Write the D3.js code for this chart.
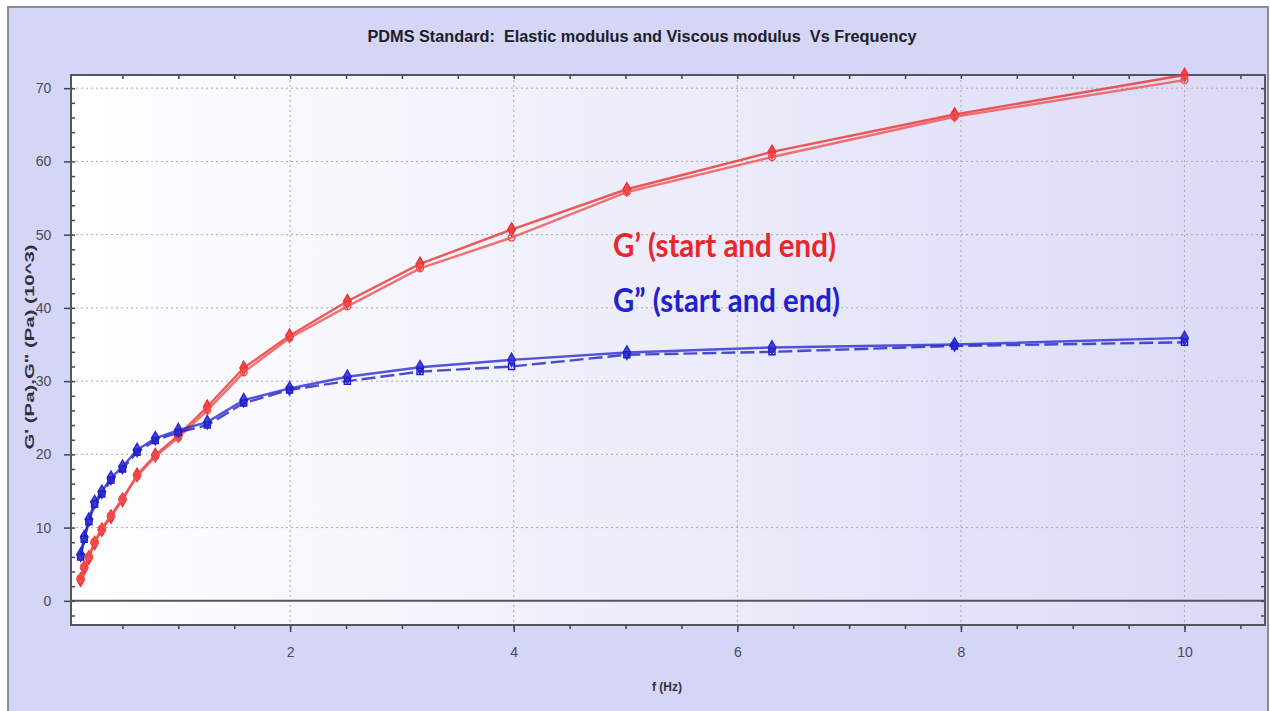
<!DOCTYPE html>
<html>
<head>
<meta charset="utf-8">
<script src="https://cdn.jsdelivr.net/npm/d3@7"></script>
<style>
  body { margin: 0; background: #fff; }
  svg { display: block; }
  text { white-space: pre; }
</style>
</head>
<body>
<svg id="chart"></svg>
<script>
// frequency points (Hz), log spaced
const freq = [0.126, 0.158, 0.2, 0.251, 0.316, 0.398, 0.501, 0.631, 0.794, 1.0,
  1.259, 1.585, 1.995, 2.512, 3.162, 3.981, 5.012, 6.31, 7.943, 10];

// G' (elastic), start and end runs, kPa
const gPrimeStart = [2.9, 4.5, 5.9, 7.9, 9.7, 11.5, 13.8, 17.2, 19.9, 22.6,
  26.5, 31.8, 36.2, 40.9, 46.0, 50.7, 56.2, 61.3, 66.4, 71.8];
const gPrimeEnd = [3.1, 4.7, 6.1, 8.1, 9.9, 11.7, 14.0, 17.0, 19.7, 22.3,
  26.0, 31.2, 35.9, 40.2, 45.4, 49.6, 55.8, 60.6, 66.1, 71.1];

// G'' (viscous), start and end runs, kPa
const gDblStart = [6.3, 8.7, 11.1, 13.5, 14.9, 16.8, 18.3, 20.6, 22.2, 23.3,
  24.4, 27.4, 29.0, 30.6, 31.9, 32.9, 33.9, 34.6, 35.0, 35.9];
const gDblEnd = [6.0, 8.4, 10.8, 13.2, 14.6, 16.5, 18.0, 20.3, 21.9, 23.0,
  24.0, 27.0, 28.8, 30.0, 31.3, 32.0, 33.6, 34.0, 34.8, 35.3];

const xTicks = [2, 4, 6, 8, 10];
const yTicks = [0, 10, 20, 30, 40, 50, 60, 70];

const W = 1270, H = 711;
const plot = { left: 71, right: 1265, top: 75, bottom: 625 };

const svg = d3.select('#chart').attr('width', W).attr('height', H);

const defs = svg.append('defs');
const grad = defs.append('linearGradient').attr('id', 'plotBg')
  .attr('x1', '0%').attr('x2', '100%').attr('y1', '0%').attr('y2', '0%');
grad.append('stop').attr('offset', '0%').attr('stop-color', '#ffffff');
grad.append('stop').attr('offset', '100%').attr('stop-color', '#dadaf6');

// outer frame
svg.append('rect')
  .attr('x', 8).attr('y', 7).attr('width', 1260).attr('height', 720)
  .attr('fill', '#d5d5f6').attr('stroke', '#8a8a9a').attr('stroke-width', 2);

const x = d3.scaleLinear().domain([0.04, 10.72]).range([plot.left, plot.right]);
const y = d3.scaleLinear().domain([-3.3, 71.8]).range([plot.bottom, plot.top]);

svg.append('rect')
  .attr('x', plot.left).attr('y', plot.top)
  .attr('width', plot.right - plot.left).attr('height', plot.bottom - plot.top)
  .attr('fill', 'url(#plotBg)');

// dotted grid
const grid = svg.append('g').attr('stroke', '#a8a8b8').attr('stroke-width', 1)
  .attr('stroke-dasharray', '2,3');
grid.selectAll('.gx').data(xTicks).enter().append('line')
  .attr('x1', d => x(d)).attr('x2', d => x(d))
  .attr('y1', plot.top).attr('y2', plot.bottom);
grid.selectAll('.gy').data(yTicks.filter(d => d > 0)).enter().append('line')
  .attr('x1', plot.left).attr('x2', plot.right)
  .attr('y1', d => y(d)).attr('y2', d => y(d));

// zero line
svg.append('line')
  .attr('x1', plot.left).attr('x2', plot.right)
  .attr('y1', y(0)).attr('y2', y(0))
  .attr('stroke', '#555560').attr('stroke-width', 2);

// axes
const xMinor = d3.range(0.5, 10.6, 0.5);
const yMinor = d3.range(-2, 71, 2);
const axisColor = '#444450';

const xAxis = svg.append('g').attr('transform', `translate(0,${plot.bottom})`)
  .call(d3.axisBottom(x).tickValues(xTicks).tickSize(7).tickFormat(d3.format('d')));
const xAxisMinor = svg.append('g').attr('transform', `translate(0,${plot.bottom})`)
  .call(d3.axisBottom(x).tickValues(xMinor).tickSize(4).tickFormat(''));
const xTop = svg.append('g').attr('transform', `translate(0,${plot.top})`)
  .call(d3.axisBottom(x).tickValues(xMinor).tickSize(4).tickFormat(''));
const yAxis = svg.append('g').attr('transform', `translate(${plot.left},0)`)
  .call(d3.axisLeft(y).tickValues(yTicks).tickSize(7).tickFormat(d3.format('d')));
const yAxisMinor = svg.append('g').attr('transform', `translate(${plot.left},0)`)
  .call(d3.axisRight(y).tickValues(yMinor).tickSize(4).tickFormat(''));
const yRight = svg.append('g').attr('transform', `translate(${plot.right},0)`)
  .call(d3.axisLeft(y).tickValues(yMinor).tickSize(4).tickFormat(''));

[xAxis, xAxisMinor, xTop, yAxis, yAxisMinor, yRight].forEach(g => {
  g.select('.domain').remove();
  g.selectAll('line').attr('stroke', axisColor).attr('stroke-width', 1.5);
  g.selectAll('text').attr('fill', '#4a4a5a')
    .style('font-family', 'Liberation Sans, Arial, sans-serif').style('font-size', '14px');
});
xAxis.selectAll('text').attr('dy', '1.6em');
yAxis.selectAll('text').attr('dx', '-0.7em');

// plot border
svg.append('rect')
  .attr('x', plot.left).attr('y', plot.top)
  .attr('width', plot.right - plot.left).attr('height', plot.bottom - plot.top)
  .attr('fill', 'none').attr('stroke', '#555560').attr('stroke-width', 2);

// series
const series = [
  { values: gPrimeStart, color: '#ee3030', dash: null, marker: 'diamond' },
  { values: gPrimeEnd, color: '#f05050', dash: null, marker: 'circle' },
  { values: gDblStart, color: '#2a2ad8', dash: null, marker: 'diamond' },
  { values: gDblEnd, color: '#2020c0', dash: '14,5', marker: 'square' }
];

const line = d3.line().x(d => x(d[0])).y(d => y(d[1]));

series.forEach(s => {
  const pts = freq.map((f, i) => [f, s.values[i]]);
  svg.append('path').datum(pts)
    .attr('fill', 'none').attr('stroke', s.color).attr('stroke-width', 2.4)
    .attr('stroke-opacity', 0.8)
    .attr('stroke-dasharray', s.dash)
    .attr('d', line);
  const sym = s.marker === 'diamond' ? d3.symbolDiamond
    : s.marker === 'square' ? d3.symbolSquare : d3.symbolCircle;
  svg.append('g').selectAll('path').data(pts).enter().append('path')
    .attr('transform', d => `translate(${x(d[0])},${y(d[1])})`)
    .attr('d', d3.symbol().type(sym).size(s.marker === 'diamond' ? 50 : 36))
    .attr('fill', s.marker === 'diamond' ? s.color : 'none')
    .attr('fill-opacity', 0.85)
    .attr('stroke', s.color).attr('stroke-width', 1.5);
});

// title
svg.append('text')
  .attr('x', 642).attr('y', 42).attr('text-anchor', 'middle')
  .attr('textLength', 549).attr('lengthAdjust', 'spacingAndGlyphs')
  .style('font-family', 'Liberation Sans Narrow, Liberation Sans, Arial, sans-serif')
  .style('font-weight', 'bold').style('font-size', '16px').attr('fill', '#202028')
  .text('PDMS Standard:  Elastic modulus and Viscous modulus  Vs Frequency');

// axis titles
svg.append('text')
  .attr('transform', 'translate(34,347) rotate(-90)').attr('text-anchor', 'middle')
  .attr('textLength', 205).attr('lengthAdjust', 'spacingAndGlyphs')
  .style('font-family', 'Liberation Sans, Arial, sans-serif')
  .style('font-weight', 'bold').style('font-size', '12px').attr('fill', '#303040')
  .text('G\' (Pa),G" (Pa) (10^3)');

svg.append('text')
  .attr('x', 667).attr('y', 691).attr('text-anchor', 'middle')
  .style('font-family', 'Liberation Sans, Arial, sans-serif')
  .style('font-weight', 'bold').style('font-size', '12px').attr('fill', '#303040')
  .text('f (Hz)');

// annotations
svg.append('text')
  .attr('x', 613).attr('y', 257)
  .attr('textLength', 223).attr('lengthAdjust', 'spacingAndGlyphs')
  .style('font-family', 'Lato, Open Sans, sans-serif').style('font-size', '32px')
  .style('font-weight', 'bold').attr('fill', '#e8262c')
  .text('G\u2019 (start and end)');
svg.append('text')
  .attr('x', 613).attr('y', 312)
  .attr('textLength', 227).attr('lengthAdjust', 'spacingAndGlyphs')
  .style('font-family', 'Lato, Open Sans, sans-serif').style('font-size', '32px')
  .style('font-weight', 'bold').attr('fill', '#2222cc')
  .text('G\u201D (start and end)');
</script>
</body>
</html>
